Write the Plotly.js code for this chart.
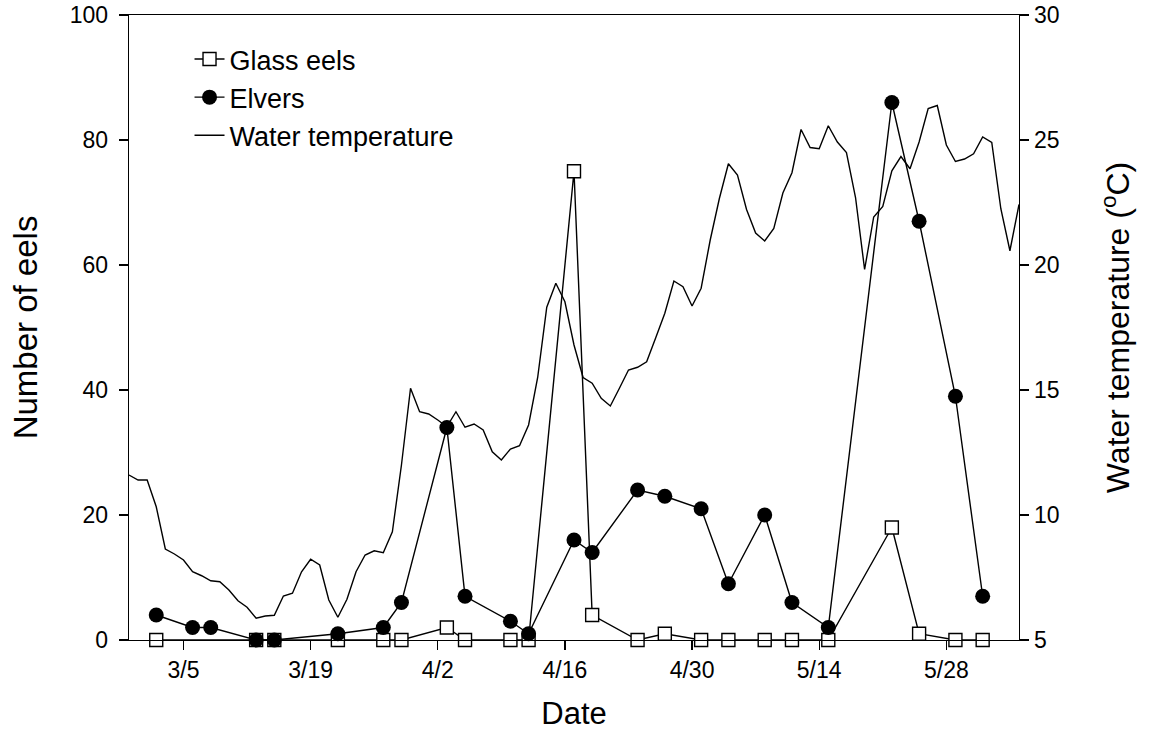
<!DOCTYPE html>
<html>
<head>
<meta charset="utf-8">
<script src="https://cdn.plot.ly/plotly-3.0.1.min.js"></script>
<style>html,body{margin:0;padding:0;background:#fff;}#chart{width:1152px;height:750px;}</style>
</head>
<body>
<div id="chart"></div>
<script>
// ---- data ----
const tempStartDate = '2009-02-27';
const waterTemp = [
  11.6, 11.4, 11.4, 10.33, 8.64, 8.44, 8.2, 7.73, 7.57, 7.37,
  7.33, 7.0, 6.57, 6.31, 5.87, 5.96, 5.99, 6.76, 6.87, 7.73,
  8.23, 8.0, 6.6, 5.91, 6.63, 7.73, 8.4, 8.57, 8.49, 9.33,
  12.0, 15.07, 14.13, 14.04, 13.8, 13.53, 14.13, 13.51, 13.64, 13.4,
  12.53, 12.2, 12.64, 12.77, 13.6, 15.5, 18.31, 19.27, 18.53, 16.8,
  15.5, 15.27, 14.67, 14.36, 15.07, 15.8, 15.91, 16.13, 17.09, 18.07,
  19.36, 19.13, 18.36, 19.07, 21.0, 22.65, 24.05, 23.6, 22.22, 21.28,
  20.96, 21.46, 22.88, 23.69, 25.42, 24.7, 24.65, 25.57, 24.92, 24.5,
  22.7, 19.82, 21.92, 22.34, 23.77, 24.34, 23.85, 24.92, 26.26, 26.38,
  24.8, 24.14, 24.24, 24.45, 25.12, 24.9, 22.25, 20.57, 22.42
];

const glassDates = ['2009-03-02','2009-03-13','2009-03-15','2009-03-22','2009-03-27','2009-03-29',
  '2009-04-03','2009-04-05','2009-04-10','2009-04-12','2009-04-17','2009-04-19','2009-04-24',
  '2009-04-27','2009-05-01','2009-05-04','2009-05-08','2009-05-11','2009-05-15','2009-05-22',
  '2009-05-25','2009-05-29','2009-06-01'];
const glassEels = [0,0,0,0,0,0,2,0,0,0,75,4,0,1,0,0,0,0,0,18,1,0,0];

const elverDates = ['2009-03-02','2009-03-06','2009-03-08','2009-03-13','2009-03-15','2009-03-22',
  '2009-03-27','2009-03-29','2009-04-03','2009-04-05','2009-04-10','2009-04-12','2009-04-17',
  '2009-04-19','2009-04-24','2009-04-27','2009-05-01','2009-05-04','2009-05-08','2009-05-11',
  '2009-05-15','2009-05-22','2009-05-25','2009-05-29','2009-06-01'];
const elvers = [4,2,2,0,0,1,2,6,34,7,3,1,16,14,24,23,21,9,20,6,2,86,67,39,7];

const xTickVals = ['2009-03-05','2009-03-19','2009-04-02','2009-04-16','2009-04-30','2009-05-14','2009-05-28'];
const xTickText = ['3/5','3/19','4/2','4/16','4/30','5/14','5/28'];
const xRange = ['2009-02-27','2009-06-05'];
const eelTicks = [0,20,40,60,80,100];
const tempTicks = [5,10,15,20,25,30];

// daily dates for the temperature record
const tempDates = [];
{
  const d0 = new Date(tempStartDate + 'T00:00:00Z');
  for (let i = 0; i < waterTemp.length; i++) {
    const d = new Date(d0.getTime() + i * 86400000);
    tempDates.push(d.toISOString().slice(0, 10));
  }
}

const FONT = 'Arial, "Liberation Sans", sans-serif';

const traces = [
  {
    name: 'Glass eels', x: glassDates, y: glassEels, yaxis: 'y2',
    type: 'scatter', mode: 'lines+markers', cliponaxis: false,
    line: {color: '#000', width: 1.4},
    marker: {symbol: 'square', size: 13, color: '#fff', line: {color: '#000', width: 1.4}}
  },
  {
    name: 'Elvers', x: elverDates, y: elvers, yaxis: 'y2',
    type: 'scatter', mode: 'lines+markers', cliponaxis: false,
    line: {color: '#000', width: 1.4},
    marker: {symbol: 'circle', size: 15, color: '#000', line: {color: '#000', width: 0}}
  },
  {
    name: 'Water temperature', x: tempDates, y: waterTemp, yaxis: 'y',
    type: 'scatter', mode: 'lines',
    line: {color: '#000', width: 1.4}
  }
];

const axisCommon = {
  showline: true, linecolor: '#000', linewidth: 1.4,
  ticks: 'outside', ticklen: 9, tickwidth: 1.4, tickcolor: '#000',
  showgrid: false, zeroline: false,
  tickfont: {family: FONT, size: 23, color: '#000'}
};

const layout = {
  width: 1152, height: 750,
  margin: {l: 129, r: 133, t: 15, b: 110},
  paper_bgcolor: '#fff', plot_bgcolor: '#fff',
  font: {family: FONT, color: '#000'},
  showlegend: true,
  legend: {
    x: 0.068, y: 0.968, xanchor: 'left', yanchor: 'top',
    bgcolor: 'rgba(0,0,0,0)', borderwidth: 0,
    font: {family: FONT, size: 27, color: '#000'},
    traceorder: 'normal'
  },
  xaxis: Object.assign({}, axisCommon, {
    type: 'date', range: xRange,
    tickvals: xTickVals, ticktext: xTickText,
    mirror: true,
    title: {text: 'Date', font: {family: FONT, size: 31, color: '#000'}, standoff: 20}
  }),
  yaxis: Object.assign({}, axisCommon, {
    side: 'right', range: [5, 30], tickvals: tempTicks,
    title: {text: 'Water temperature (<sup>o</sup>C)', font: {family: FONT, size: 32, color: '#000'}, standoff: 48}
  }),
  yaxis2: Object.assign({}, axisCommon, {
    side: 'left', overlaying: 'y', range: [0, 100], tickvals: eelTicks,
    ticklabelstandoff: 6,
    title: {text: 'Number of eels', font: {family: FONT, size: 33, color: '#000'}, standoff: 22}
  })
};

Plotly.newPlot('chart', traces, layout, {displayModeBar: false, staticPlot: true});
</script>
</body>
</html>
